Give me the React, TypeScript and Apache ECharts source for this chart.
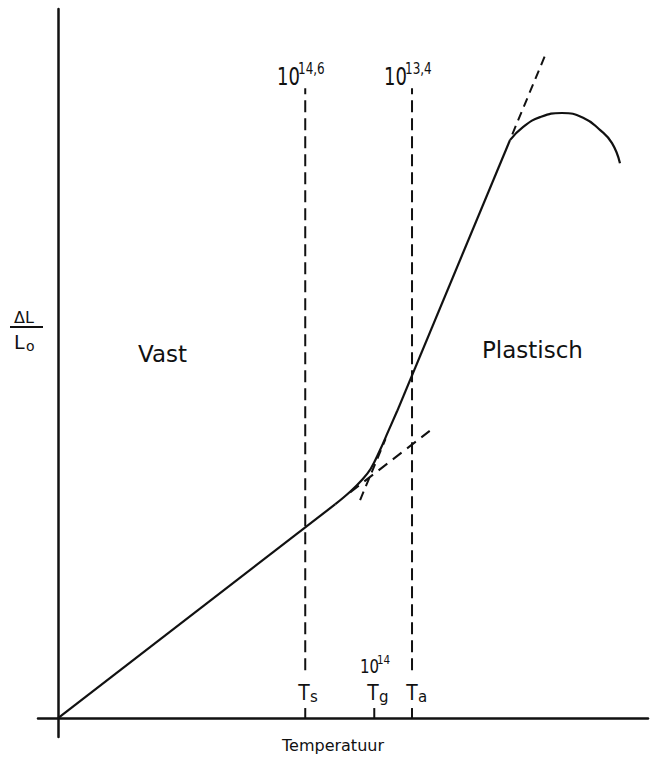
import React, { useEffect, useRef } from "react";
import * as echarts from "echarts";

// ---- data (abstract units: temperature on x, ΔL/L0 on y) ----
const lowerSolid: number[][] = [[0, 0], [4.7, 3.62]];
const kneeCurve: number[][] = [[4.7, 3.62], [4.95, 3.83], [5.15, 4.03], [5.3, 4.22], [5.45, 4.52], [5.6, 4.86], [5.75, 5.2]];
const steepSolid: number[][] = [[5.75, 5.2], [7.66, 9.78]];
const softArc: number[][] = [[7.66, 9.78], [7.88, 10.0], [8.17, 10.17], [8.54, 10.24], [8.9, 10.16], [9.19, 9.95], [9.39, 9.73], [9.525, 9.39]];
const lowerDash: number[][] = [[4.95, 3.82], [6.3, 4.86]];
const steepDash: number[][] = [[5.12, 3.69], [5.55, 4.72]];
const topDash: number[][] = [[7.7, 9.88], [8.25, 11.2]];
const Ts = 4.19;
const Tg = 5.36;
const Ta = 6.0;
const vLineBottom = 0.81;
const vLineTop = 10.66;
const tickTop = 0.17;
const tsLine: number[][] = [[Ts, vLineBottom], [Ts, vLineTop]];
const taLine: number[][] = [[Ta, vLineBottom], [Ta, vLineTop]];
const tsTick: number[][] = [[Ts, 0], [Ts, tickTop]];
const tgTick: number[][] = [[Tg, 0], [Tg, tickTop]];
const taTick: number[][] = [[Ta, 0], [Ta, tickTop]];

const topLabels = [
  { base: "10", exp: "14,6" },
  { base: "10", exp: "13,4" },
];
const bottomLabels = [
  { main: "T", sub: "s" },
  { main: "T", sub: "g" },
  { main: "T", sub: "a" },
];
const tgViscosity = { base: "10", exp: "14" };
const xTitle = "Temperatuur";
const yTitleTop = "ΔL";
const yTitleBottom = { main: "L", sub: "o" };
const regionLabels = ["Vast", "Plastisch"];

const INK = "#111";
const FONT = "DejaVu Sans, sans-serif";

function txt(text: string, x: number, y: number, size: number, sx = 1, align = "left") {
  return {
    type: "text",
    x,
    y,
    scaleX: sx,
    silent: true,
    style: {
      text,
      font: `${size}px ${FONT}`,
      fill: INK,
      align,
      verticalAlign: "middle",
    },
  };
}

export default function App() {
  const ref = useRef<HTMLDivElement>(null);
  useEffect(() => {
    document.body.style.margin = "0";
    const chart = echarts.init(ref.current!, null, { renderer: "svg" });
    const lineSeries = (data: number[][], opts: any = {}) => ({
      type: "line",
      data,
      symbol: "none",
      silent: true,
      smooth: opts.smooth ?? false,
      lineStyle: {
        color: INK,
        width: opts.width ?? 2.2,
        type: opts.dash ?? "solid",
        cap: "butt",
      },
      z: 3,
    });
    chart.setOption({
      animation: false,
      backgroundColor: "#fff",
      grid: { left: 38, right: 5, top: 9, bottom: 22 },
      xAxis: {
        type: "value",
        min: -0.34,
        max: 10,
        axisLine: { show: true, onZero: true, lineStyle: { color: INK, width: 2.5 } },
        axisTick: { show: false },
        axisLabel: { show: false },
        splitLine: { show: false },
      },
      yAxis: {
        type: "value",
        min: -0.32,
        max: 12,
        axisLine: { show: true, onZero: true, lineStyle: { color: INK, width: 2.5 } },
        axisTick: { show: false },
        axisLabel: { show: false },
        splitLine: { show: false },
      },
      series: [
        lineSeries(lowerSolid),
        lineSeries(kneeCurve, { smooth: 0.4 }),
        lineSeries(steepSolid),
        lineSeries(softArc, { smooth: 0.5 }),
        lineSeries(lowerDash, { dash: [11, 7], width: 2 }),
        lineSeries(steepDash, { dash: [9, 6], width: 2 }),
        lineSeries(topDash, { dash: [9, 6], width: 2 }),
        lineSeries(tsLine, { dash: [12, 6], width: 2 }),
        lineSeries(taLine, { dash: [12, 6], width: 2 }),
        lineSeries(tsTick, { width: 2 }),
        lineSeries(tgTick, { width: 2 }),
        lineSeries(taTick, { width: 2 }),
      ],
      graphic: [
        // top viscosity labels
        txt(topLabels[0].base, 277, 77, 24, 0.75),
        txt(topLabels[0].exp, 298, 68, 16, 0.75),
        txt(topLabels[1].base, 384, 77, 24, 0.75),
        txt(topLabels[1].exp, 405, 68, 16, 0.75),
        // region labels
        txt(regionLabels[0], 138, 354, 23),
        txt(regionLabels[1], 482, 350, 23),
        // y title
        txt(yTitleTop, 14, 317, 16),
        {
          type: "line",
          silent: true,
          shape: { x1: 10, y1: 327, x2: 43, y2: 327 },
          style: { stroke: INK, lineWidth: 2 },
        },
        txt(yTitleBottom.main, 14, 342, 19),
        txt(yTitleBottom.sub, 26, 346, 14),
        // bottom T labels
        txt(bottomLabels[0].main, 304, 692, 22, 0.85, "center"),
        txt(bottomLabels[0].sub, 310, 697, 15),
        txt(bottomLabels[1].main, 373, 692, 22, 0.85, "center"),
        txt(bottomLabels[1].sub, 379, 697, 15),
        txt(bottomLabels[2].main, 412, 692, 22, 0.85, "center"),
        txt(bottomLabels[2].sub, 418, 697, 15),
        // Tg viscosity
        txt(tgViscosity.base, 360, 666, 20, 0.75),
        txt(tgViscosity.exp, 377, 660, 13, 0.8),
        // x title
        txt(xTitle, 282, 745, 16),
      ],
    });
    return () => chart.dispose();
  }, []);
  return <div ref={ref} style={{ width: 653, height: 759 }} />;
}
